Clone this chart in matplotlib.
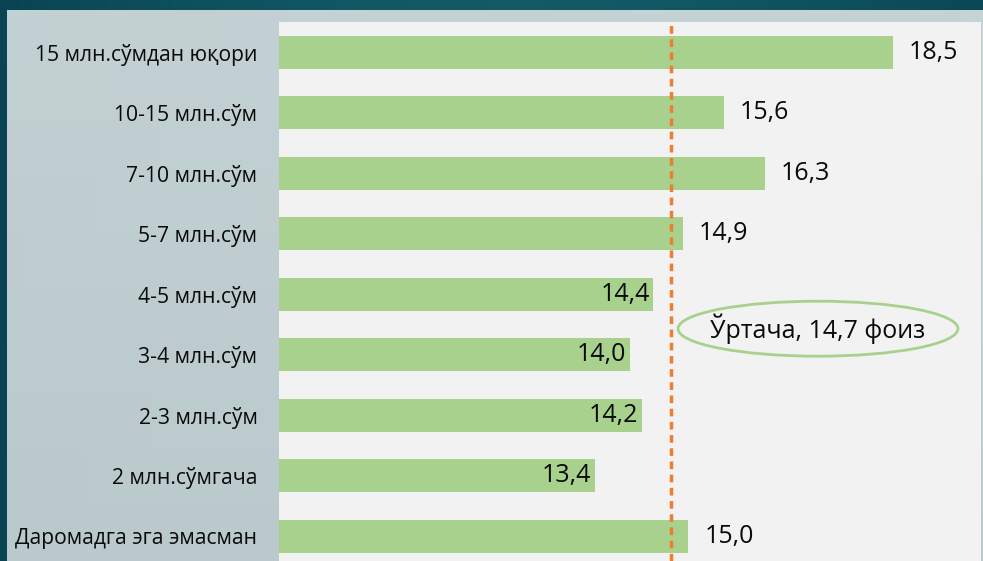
import matplotlib
matplotlib.use("Agg")
import matplotlib.pyplot as plt
from matplotlib.patches import Ellipse
import numpy as np

categories = ["15 млн.сўмдан юқори", "10-15 млн.сўм", "7-10 млн.сўм", "5-7 млн.сўм",
              "4-5 млн.сўм", "3-4 млн.сўм", "2-3 млн.сўм", "2 млн.сўмгача",
              "Даромадга эга эмасман"]
values = [18.5, 15.6, 16.3, 14.9, 14.4, 14.0, 14.2, 13.4, 15.0]
value_labels = ["18,5", "15,6", "16,3", "14,9", "14,4", "14,0", "14,2", "13,4", "15,0"]
average = 14.7
average_label = "Ўртача, 14,7 фоиз"

W, H = 983, 561
plt.rcParams['font.family'] = ['Open Sans', 'DejaVu Sans']
fig = plt.figure(figsize=(W/100, H/100), dpi=100)
fig.patch.set_facecolor('#0c4d5a')

# background gradient (dark teal)
bg = fig.add_axes([0, 0, 1, 1], zorder=-10)
gx = np.linspace(0, 1, 200)
grad = np.outer(np.ones(50), 0.5 + 0.5*np.sin(gx*3))
bg.imshow(grad, extent=[0, 1, 0, 1], aspect='auto',
          cmap=matplotlib.colors.LinearSegmentedColormap.from_list('t', ['#0a4452', '#125a66']))
bg.set_axis_off()

# light panel
panel = fig.add_axes([7/W, 0, (982-7)/W, (H-10)/H], zorder=-5)
pg = np.add.outer(np.linspace(0, 1, 10), np.linspace(0, 0.4, 100))
panel.imshow(pg, extent=[0, 1, 0, 1], aspect='auto', origin='lower',
             cmap=matplotlib.colors.LinearSegmentedColormap.from_list('p', ['#bac9cc', '#c5d3d5']))
panel.set_axis_off()

left, right, top, bottom = 279, 981, 22, 561
ax = fig.add_axes([left/W, (H-bottom)/H, (right-left)/W, (bottom-top)/H])
ax.set_facecolor('#f2f2f2')
y = np.arange(len(categories))
ax.barh(y, [v - 8 for v in values], left=8, height=0.55, color='#a9d18e', zorder=2)
ax.set_xlim(8, 20)
ax.set_ylim(8.41, -0.5)
ax.axvline(average, color='#ed7d31', lw=2.5, ls=(0, (2.2, 1.6)), zorder=3)
for s in ax.spines.values():
    s.set_visible(False)
ax.set_xticks([])
ax.set_yticks(y)
ax.set_yticklabels(categories, fontsize=15.2, color='#0a0a0a')
ax.tick_params(axis='y', length=0, pad=15.5)

for yi, v, lab in zip(y, values, value_labels):
    if v < average:
        ax.text(v - 0.06, yi, lab, ha='right', va='center', fontsize=18, color='#0a0a0a', zorder=4)
    else:
        ax.text(v + 0.27, yi, lab, ha='left', va='center', fontsize=18, color='#0a0a0a', zorder=4)

# ellipse annotation
ex = 8 + (818 - left) / ((right - left) / 12)
ell = Ellipse((ex, 4.57), width=280/((right-left)/12), height=55/60.5,
              facecolor='none', edgecolor='#a9d18e', lw=2, zorder=4)
ax.add_patch(ell)
ax.text(ex, 4.57, average_label, ha='center', va='center', fontsize=18, color='#0a0a0a', zorder=5)

fig.savefig('out.png', dpi=100, facecolor=fig.get_facecolor())
